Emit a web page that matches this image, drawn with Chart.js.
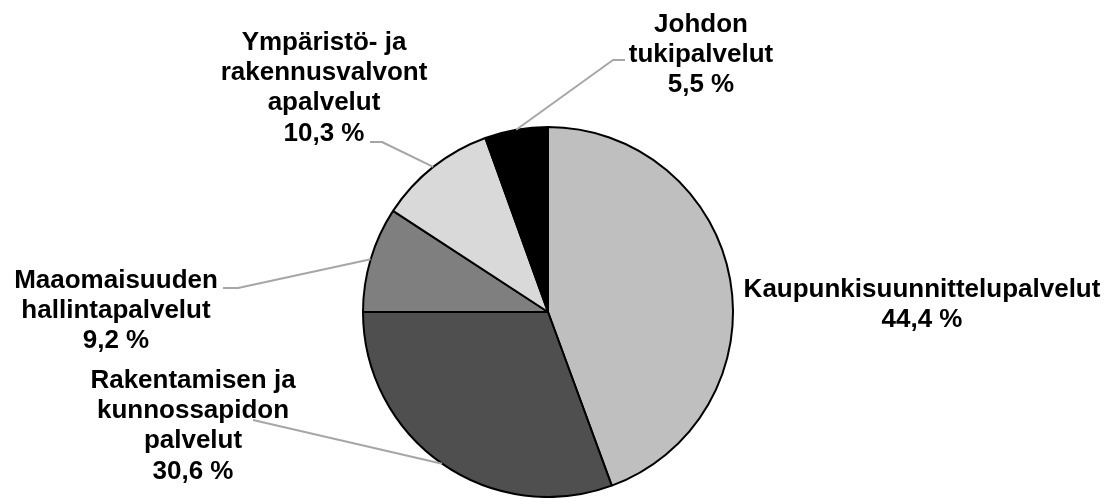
<!DOCTYPE html>
<html>
<head>
<meta charset="utf-8">
<script src="https://cdn.jsdelivr.net/npm/chart.js@4.4.1/dist/chart.umd.min.js"></script>
<style>
  html, body { margin: 0; padding: 0; background: #ffffff; }
  #wrap { width: 1110px; height: 498px; position: relative; }
</style>
</head>
<body>
<div id="wrap"><canvas id="c" width="1110" height="498"></canvas></div>
<script>
// ---- data ----
const categories = [
  ["Kaupunkisuunnittelupalvelut"],
  ["Rakentamisen ja", "kunnossapidon", "palvelut"],
  ["Maaomaisuuden", "hallintapalvelut"],
  ["Ympäristö- ja", "rakennusvalvont", "apalvelut"],
  ["Johdon", "tukipalvelut"]
];
const values = [44.4, 30.6, 9.2, 10.3, 5.5];
const sliceColors = ["#bfbfbf", "#4f4f4f", "#7f7f7f", "#d9d9d9", "#000000"];

// ---- label layout (pixel positions of the label blocks and leader knees) ----
const labelLayout = [
  { x: 922, y: 297, leader: null },
  { x: 193, y: 388, leader: [[253, 420]] },
  { x: 116, y: 288, leader: [[223, 288], [238, 288]] },
  { x: 324, y: 50,  leader: [[370, 142], [382, 142]] },
  { x: 701, y: 32,  leader: [[625, 60], [613, 60]] }
];
const LINE_H = 30.2;
const FONT = 'bold 26px "Liberation Sans", Arial, sans-serif';

function fmt(v) { return v.toFixed(1).replace('.', ',') + ' %'; }

const labelPlugin = {
  id: 'pieLabels',
  afterDatasetsDraw(chart) {
    const ctx = chart.ctx;
    const meta = chart.getDatasetMeta(0);
    ctx.save();
    // leader lines
    ctx.strokeStyle = '#a6a6a6';
    ctx.lineWidth = 2;
    ctx.lineJoin = 'round';
    meta.data.forEach((arc, i) => {
      const L = labelLayout[i];
      if (!L.leader) return;
      const p = arc.getProps(['x', 'y', 'startAngle', 'endAngle', 'outerRadius'], true);
      const mid = (p.startAngle + p.endAngle) / 2;
      const ex = p.x + Math.cos(mid) * p.outerRadius;
      const ey = p.y + Math.sin(mid) * p.outerRadius;
      ctx.beginPath();
      ctx.moveTo(L.leader[0][0], L.leader[0][1]);
      for (let k = 1; k < L.leader.length; k++) ctx.lineTo(L.leader[k][0], L.leader[k][1]);
      ctx.lineTo(ex, ey);
      ctx.stroke();
    });
    // texts
    ctx.fillStyle = '#000000';
    ctx.font = FONT;
    ctx.textAlign = 'center';
    ctx.textBaseline = 'alphabetic';
    meta.data.forEach((arc, i) => {
      const L = labelLayout[i];
      const lines = categories[i].concat([fmt(values[i])]);
      lines.forEach((t, k) => ctx.fillText(t, L.x, L.y + k * LINE_H));
    });
    ctx.restore();
  }
};

const whiteBg = {
  id: 'whiteBg',
  beforeDraw(chart) {
    const ctx = chart.ctx;
    ctx.save();
    ctx.fillStyle = '#ffffff';
    ctx.fillRect(0, 0, chart.width, chart.height);
    ctx.restore();
  }
};

new Chart(document.getElementById('c'), {
  type: 'pie',
  data: {
    labels: categories.map(c => c.join(' ')),
    datasets: [{
      data: values,
      backgroundColor: sliceColors,
      borderColor: '#000000',
      borderWidth: 2,
      radius: 185,
      hoverOffset: 0
    }]
  },
  options: {
    responsive: false,
    animation: false,
    events: [],
    layout: { padding: { left: 0, right: 14, top: 126, bottom: 0 } },
    plugins: {
      legend: { display: false },
      tooltip: { enabled: false }
    }
  },
  plugins: [whiteBg, labelPlugin]
});
</script>
</body>
</html>
